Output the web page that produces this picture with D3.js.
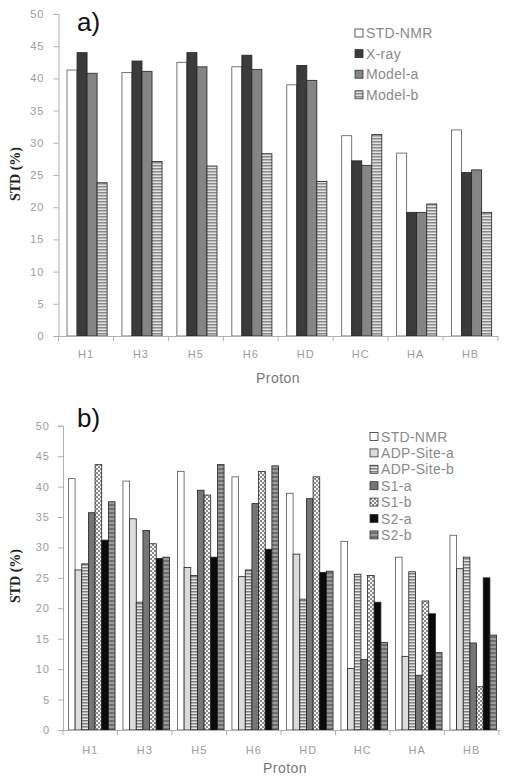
<!DOCTYPE html>
<html><head><meta charset="utf-8">
<script src="https://cdn.jsdelivr.net/npm/d3@7"></script>
<style>body{margin:0;background:#fff}svg{display:block}</style>
</head><body>
<svg id="c" width="512" height="783"></svg>
<script>
const protons = ["H1","H3","H5","H6","HD","HC","HA","HB"];
const yTicks = [0,5,10,15,20,25,30,35,40,45,50];

const seriesA = ["STD-NMR","X-ray","Model-a","Model-b"];
const stdNmrA = [41.3,40.9,42.5,41.8,39.0,31.1,28.4,32.0];
const xray    = [44.0,42.7,44.0,43.6,42.0,27.2,19.2,25.4];
const modelA  = [40.8,41.1,41.8,41.4,39.7,26.5,19.2,25.8];
const modelB  = [23.8,27.1,26.4,28.3,24.0,31.3,20.5,19.2];

const seriesB = ["STD-NMR","ADP-Site-a","ADP-Site-b","S1-a","S1-b","S2-a","S2-b"];
const stdNmrB  = [41.3,40.9,42.5,41.6,38.9,31.0,28.4,32.0];
const adpSiteA = [26.3,34.7,26.7,25.2,28.9,10.1,12.1,26.5];
const adpSiteB = [27.3,21.0,25.4,26.3,21.5,25.6,26.0,28.4];
const s1a      = [35.7,32.8,39.4,37.2,38.0,11.6,9.0,14.3];
const s1b      = [43.6,30.6,38.6,42.5,41.6,25.4,21.2,7.1];
const s2a      = [31.2,28.2,28.4,29.7,25.9,21.0,19.1,25.0];
const s2b      = [37.5,28.4,43.6,43.4,26.1,14.4,12.7,15.6];

const svg = d3.select("#c");
const defs = svg.append("defs");
function stripes(id, bg, fg, h){
  const p = defs.append("pattern").attr("id",id).attr("patternUnits","userSpaceOnUse")
    .attr("width",4).attr("height",h);
  p.append("rect").attr("width",4).attr("height",h).attr("fill",bg);
  p.append("rect").attr("width",4).attr("height",h/2).attr("fill",fg);
}
stripes("stripeA","#e2e2e2","#8a8a8a",3);
stripes("stripeB1","#e6e6e6","#7e7e7e",3);
stripes("stripeB2","#9a9a9a","#6e6e6e",4);
(function(){
  const p = defs.append("pattern").attr("id","check").attr("patternUnits","userSpaceOnUse")
    .attr("width",4).attr("height",4);
  p.append("rect").attr("width",4).attr("height",4).attr("fill","#f4f4f4");
  p.append("rect").attr("width",2).attr("height",2).attr("fill","#8c8c8c");
  p.append("rect").attr("x",2).attr("y",2).attr("width",2).attr("height",2).attr("fill","#8c8c8c");
})();

const fillsA = ["#ffffff","#3b3b3b","#858585","url(#stripeA)"];
const fillsB = ["#ffffff","#dcdcdc","url(#stripeB1)","#767676","url(#check)","#0a0a0a","url(#stripeB2)"];

function panel(o){
  const g = svg.append("g");
  const y = d3.scaleLinear().domain([0,50]).range([o.y0,o.y50]);
  const x0 = d3.scaleBand().domain(protons).range([o.xl,o.xr]);
  const x1 = d3.scaleBand().domain(o.series).range([x0.step()*o.g0, x0.step()*o.g1]);
  const ya = g.append("g").attr("transform",`translate(${o.xl},0)`)
    .call(d3.axisLeft(y).tickValues(yTicks).tickSize(5).tickPadding(o.tp));
  ya.select(".domain").attr("stroke","#b0b0b0");
  ya.selectAll(".tick line").attr("stroke","#b0b0b0");
  ya.selectAll("text").attr("fill","#9c9c9c").attr("font-family","Liberation Sans, Arial, sans-serif")
    .attr("font-size",11).attr("letter-spacing",1);
  o.series.forEach((s,si)=>{
    g.append("g").selectAll("rect").data(o.values[si]).join("rect")
      .attr("x",(d,i)=>x0(protons[i])+x1(s))
      .attr("width",x1.bandwidth())
      .attr("y",d=>y(d))
      .attr("height",d=>y(0)-y(d))
      .attr("fill",o.fills[si])
      .attr("stroke",si===0?"#555":"#222")
      .attr("stroke-width",0.8);
  });
  const xa = g.append("g").attr("transform",`translate(0,${o.y0})`)
    .call(d3.axisBottom(x0).tickSize(0).tickPadding(o.xtp));
  xa.select(".domain").attr("stroke","#b0b0b0");
  xa.selectAll("text").attr("fill","#9c9c9c").attr("font-family","Liberation Sans, Arial, sans-serif")
    .attr("font-size",11).attr("letter-spacing",1);
  g.append("g").selectAll("line").data(d3.range(protons.length+1)).join("line")
    .attr("x1",i=>o.xl+i*x0.step()).attr("x2",i=>o.xl+i*x0.step())
    .attr("y1",o.y0).attr("y2",o.y0+5).attr("stroke","#b0b0b0");
  g.append("text").attr("x",o.px).attr("y",o.py).attr("text-anchor","middle")
    .attr("fill","#777").attr("font-family","Liberation Sans, Arial, sans-serif")
    .attr("font-size",14).attr("letter-spacing",0.5).text("Proton");
  g.append("text").attr("transform",`translate(${o.yx},${o.yy}) rotate(-90)`)
    .attr("text-anchor","middle").attr("fill","#222").attr("font-weight","bold")
    .attr("font-family","Liberation Serif, Times New Roman, serif").attr("font-size",14)
    .text("STD (%)");
  g.append("text").attr("x",77).attr("y",o.ly).attr("fill","#111")
    .attr("font-family","Liberation Sans, Arial, sans-serif").attr("font-size",26)
    .text(o.label);
  const lg = g.append("g");
  o.series.forEach((s,si)=>{
    const cy = o.legY + si*o.legDy;
    lg.append("rect").attr("x",o.legX).attr("y",cy-4).attr("width",8).attr("height",8)
      .attr("fill",o.fills[si]).attr("stroke","#333").attr("stroke-width",0.8);
    lg.append("text").attr("x",o.legX+11).attr("y",cy+5).attr("fill","#8a8a8a")
      .attr("font-family","Liberation Sans, Arial, sans-serif").attr("font-size",14)
      .attr("letter-spacing",0.3).text(s);
  });
}

panel({series:seriesA, values:[stdNmrA,xray,modelA,modelB], fills:fillsA,
  y0:336, y50:14, xl:58.5, xr:498, g0:0.155, g1:0.885, tp:9, xtp:14,
  px:278, py:383, yx:20, yy:174, label:"a)", ly:31,
  legX:355, legY:33, legDy:20.6});
panel({series:seriesB, values:[stdNmrB,adpSiteA,adpSiteB,s1a,s1b,s2a,s2b], fills:fillsB,
  y0:730, y50:425.7, xl:63, xr:499, g0:0.1, g1:0.955, tp:8, xtp:16,
  px:285, py:773, yx:20, yy:576, label:"b)", ly:427,
  legX:370, legY:436.5, legDy:16.4});
</script>
</body></html>
